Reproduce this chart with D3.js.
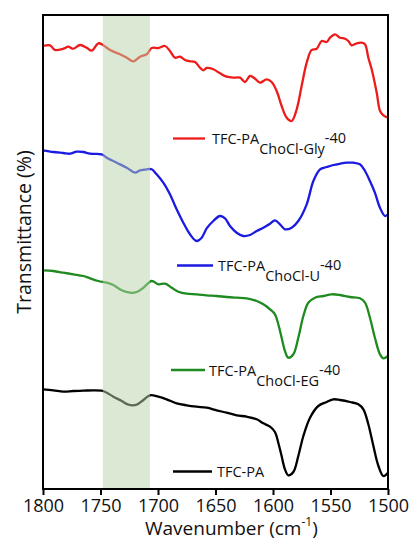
<!DOCTYPE html>
<html>
<head>
<meta charset="utf-8">
<script src="https://cdn.jsdelivr.net/npm/d3@7"></script>
<style>
  body{margin:0;background:#fff;}
  text{font-family:"Open Sans",sans-serif;fill:#111;}
</style>
</head>
<body>
<div id="content"></div>
<script>

// wavenumber (cm-1), transmittance (a.u., stacked)
const glyData = [[1800,443],[1793.9,443.7],[1789.6,439],[1782.3,440.3],[1778,442.3],[1773.6,440.3],[1767.8,444],[1762,441.3],[1757.7,438.3],[1751.9,445.7],[1747.5,443.7],[1741.7,439],[1733,434.7],[1727.2,431.3],[1721.4,427.7],[1715.6,432.3],[1709.8,434.7],[1705.5,441],[1699.7,441],[1693.9,443],[1689.6,438],[1685.2,431.3],[1680.9,432.3],[1676.5,429],[1672.2,427.7],[1667.8,427],[1663.5,421.3],[1660.6,418.7],[1657.7,421],[1651.9,419.7],[1646.1,415.7],[1640.3,412.3],[1634.5,411.3],[1628.7,411.3],[1624.3,407],[1620,413],[1615.6,410.3],[1611.3,406.3],[1605.5,409.7],[1601.2,407],[1596.8,398],[1592.5,383],[1588.1,371.3],[1583.8,368],[1579.4,379.7],[1575.1,403],[1570.7,426.3],[1566.4,439],[1562,440.3],[1557.7,448],[1553.3,447],[1550.4,451.3],[1546.1,454.7],[1541.7,451.3],[1537.4,450.3],[1534.5,448],[1531.6,443.7],[1527.2,445.7],[1522.9,446.3],[1520,444.7],[1517.1,431.3],[1514.2,419.7],[1509.8,396.3],[1506.9,378],[1504,373.7],[1500,371.3]];

const uData = [[1800,338.7],[1791,337],[1782.3,336],[1776.5,335.3],[1770.7,337.3],[1764.9,337],[1759.1,335.3],[1749,334.7],[1744.6,331.3],[1735.9,326.3],[1727.2,321.3],[1720,316.3],[1715.6,318.7],[1709.8,319.7],[1705.5,319.7],[1701.2,314.7],[1695.4,306.3],[1689.6,294.7],[1683.8,279.7],[1678,266.3],[1672.2,254.7],[1666.4,248],[1662,251.3],[1657.7,260.7],[1651.9,268],[1646.1,273],[1641.7,270.7],[1637.4,263],[1631.6,256.3],[1625.8,253],[1620,254],[1614.2,258],[1608.4,261.3],[1602.6,265.3],[1598.3,268.7],[1593.9,264.7],[1589.6,259.7],[1583.8,261.3],[1578,268],[1570.7,284.7],[1564.9,308],[1559.1,319.7],[1553.3,322],[1547.5,324],[1541.7,325.3],[1535.9,326.3],[1530.1,326.3],[1524.4,324.7],[1520,318],[1515.7,308],[1511.4,296.3],[1507,281.3],[1502.6,273],[1500,274.7]];

const egData = [[1800,218.7],[1791,218],[1782.3,216.3],[1773.6,214.7],[1764.9,213],[1759.1,210.7],[1751.9,208],[1744.6,206.3],[1738.8,204],[1731.6,198.7],[1724.3,196.3],[1718.5,197],[1712.7,201.3],[1705.5,208],[1699.7,204.7],[1693.9,205.3],[1688.1,201.3],[1682.3,197.3],[1675.1,195.3],[1666.4,194.7],[1657.7,193.7],[1649,193],[1640.3,192],[1631.6,191.3],[1622.9,190.7],[1614.2,188],[1608.4,184.7],[1602.6,179.7],[1598.3,174.7],[1595.4,164.7],[1592.5,151.3],[1589.6,138],[1586.7,131.3],[1582.3,134.7],[1578,151.3],[1573.6,173],[1569.3,186.3],[1563.5,191.3],[1556.2,193],[1549,194.7],[1541.7,194],[1533,192],[1524.4,190.7],[1520,186.3],[1515.7,171.3],[1511.4,151.3],[1507,134.7],[1504.1,130.7],[1500,133]];

const paData = [[1800,99.7],[1791,98.7],[1782.3,97.3],[1773.6,98],[1764.9,98.3],[1756.2,98.7],[1749,98.3],[1744.6,96.3],[1738.8,92.3],[1731.6,88],[1725.8,84.3],[1718.5,84.3],[1712.7,89],[1707,93.7],[1699.7,92.3],[1692.5,89.7],[1683.8,85.7],[1675.1,83.7],[1666.4,82.3],[1657.7,81.3],[1649,78.7],[1640.3,76.3],[1631.6,73.7],[1622.9,72.3],[1614.2,69.7],[1608.4,65.7],[1602.6,62.3],[1598.3,57],[1595.4,46.3],[1592.5,33],[1589.6,19.7],[1586.7,13.7],[1582.3,17],[1578,33],[1573.6,53],[1567.8,71.3],[1560.6,83],[1553.3,87],[1547.5,89.7],[1541.7,89],[1533,87],[1525.8,84.7],[1521.4,79.7],[1517.1,64.7],[1512.7,43],[1508.3,23],[1504,13],[1500,16.3]];

const seriesNames = ["ChoCl-Gly", "ChoCl-U", "ChoCl-EG", ""];
const xTicks = [1800, 1750, 1700, 1650, 1600, 1550, 1500];
const band = [1748, 1707];

const colors = ["#ee1b1b", "#1a1ae0", "#1f8a1f", "#000"];
// legend line x0,x1 / text x / text baseline
const legendPos = [[173,205,212,144],[177,213,218,271],[171,205,209,375.5],[173,212,217,477]];

let W = 414, H = 542;
let m = {l:43, r:388, t:15, b:489};

let x = d3.scaleLinear().domain([1800,1500]).range([m.l, m.r]);
let y = d3.scaleLinear().domain([0,474]).range([m.b, m.t]);

let svg = d3.select("#content").append("svg")
    .attr("width", W)
    .attr("height", H);

let line = d3.line()
    .x(d=>x(d[0]))
    .y(d=>y(d[1]))
    .curve(d3.curveCatmullRom.alpha(0.5));

let all = [glyData, uData, egData, paData];

svg.append("g")
    .selectAll("path")
    .data(all)
    .enter().append("path")
    .attr("d", d=>line(d))
    .style("fill","none")
    .style("stroke",(d,i)=>colors[i])
    .style("stroke-width",2.3)
    .style("stroke-linejoin","round");

svg.append("rect")
    .attr("x", x(band[0]))
    .attr("y", m.t)
    .attr("width", x(band[1]) - x(band[0]))
    .attr("height", m.b - m.t)
    .style("fill","#b8d4aa")
    .style("opacity",0.5);

// frame
svg.append("rect")
    .attr("x", m.l).attr("y", m.t)
    .attr("width", m.r - m.l).attr("height", m.b - m.t)
    .style("fill","none")
    .style("stroke","#000")
    .style("stroke-width",2);

let xAxis = svg.append("g")
    .attr("transform",`translate(0,${m.b})`)
    .call(d3.axisBottom(x).tickValues(xTicks).tickSize(6).tickSizeOuter(0).tickFormat(d3.format("d")));
xAxis.select(".domain").remove();
xAxis.selectAll("line").style("stroke","#000").style("stroke-width",2);
xAxis.selectAll("text")
    .attr("y", 10)
    .style("font-size","18px")
    .style("font-family","'Open Sans',sans-serif")
    .style("fill","#111");

let xt = svg.append("text")
    .attr("x", 145)
    .attr("y", 535)
    .style("font-size","19px");
xt.append("tspan").text("Wavenumber (cm");
xt.append("tspan").attr("dy",-9).style("font-size","12px").text("-1");
xt.append("tspan").attr("dy",9).text(")");

svg.append("text")
    .attr("transform","translate(31,232) rotate(-90)")
    .attr("text-anchor","middle")
    .style("font-size","19.5px")
    .text("Transmittance (%)");

let leg = svg.append("g")
    .selectAll("g")
    .data(seriesNames)
    .enter().append("g");

leg.append("line")
    .attr("x1",(d,i)=>legendPos[i][0])
    .attr("x2",(d,i)=>legendPos[i][1])
    .attr("y1",(d,i)=>legendPos[i][3]-5.5)
    .attr("y2",(d,i)=>legendPos[i][3]-5.5)
    .style("stroke",(d,i)=>colors[i])
    .style("stroke-width",2.3);

let lt = leg.append("text")
    .attr("x",(d,i)=>legendPos[i][2])
    .attr("y",(d,i)=>legendPos[i][3])
    .style("font-size","14.5px");
lt.append("tspan").text("TFC-PA");
lt.filter(d=>d!="").append("tspan").attr("dy",10).text(d=>d);
lt.filter(d=>d!="").append("tspan").attr("dy",-11).text("-40");

</script>
</body>
</html>
